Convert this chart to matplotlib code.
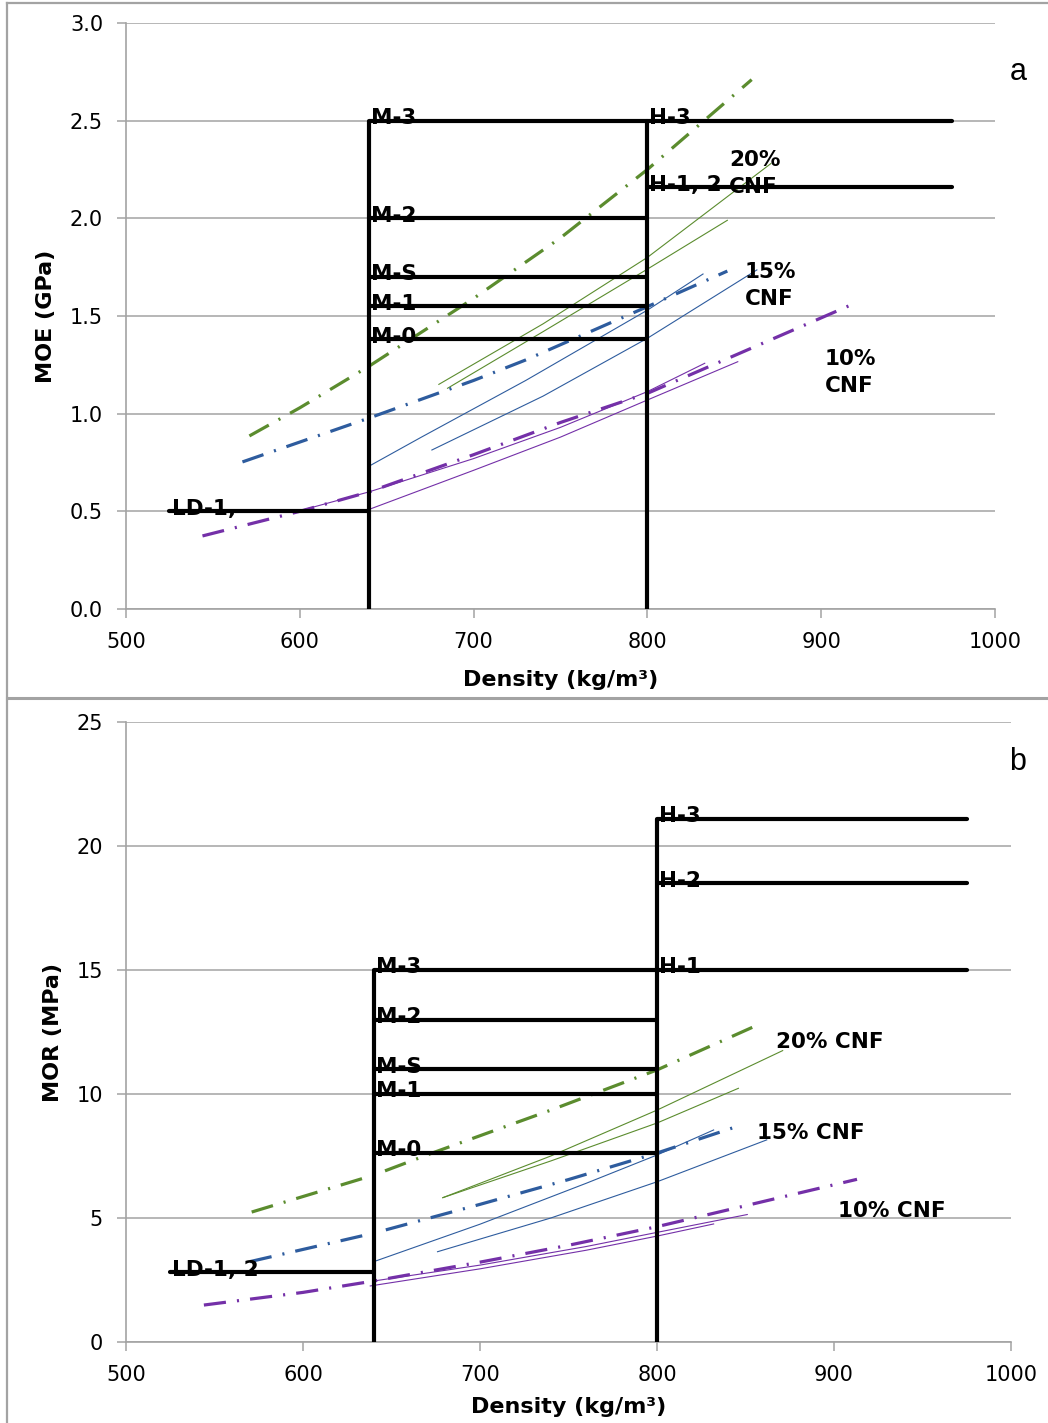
import matplotlib
matplotlib.use("Agg")
import matplotlib.pyplot as plt
from matplotlib.lines import Line2D

plt.rcParams['font.family'] = ['DejaVu Sans']
plt.rcParams['lines.scale_dashes'] = False

# ---------------- data: panel a (MOE) ----------------
moe_grade_labels = ["LD-1,", "M-0", "M-1", "M-S", "M-2", "M-3", "H-1, 2", "H-3"]
moe_grade_dmin = [525, 640, 640, 640, 640, 640, 800, 800]
moe_grade_dmax = [640, 800, 800, 800, 800, 800, 975, 975]
moe_grade_val = [0.50, 1.38, 1.55, 1.70, 2.00, 2.50, 2.16, 2.50]

moe_g20_x = [571, 600, 640, 700, 750, 800, 860]
moe_g20_y = [0.886, 1.03, 1.244, 1.59, 1.90, 2.25, 2.71]
moe_g20a_x = [680, 740, 800, 871]
moe_g20a_y = [1.15, 1.46, 1.80, 2.28]
moe_g20b_x = [685, 740, 800, 846]
moe_g20b_y = [1.13, 1.42, 1.74, 1.99]

moe_b15_x = [567, 640, 700, 730, 800, 846]
moe_b15_y = [0.753, 0.978, 1.17, 1.275, 1.548, 1.73]
moe_b15a_x = [640, 670, 730, 800, 832]
moe_b15a_y = [0.732, 0.88, 1.17, 1.53, 1.715]
moe_b15b_x = [676, 740, 800, 863]
moe_b15b_y = [0.814, 1.09, 1.386, 1.736]

moe_p10_x = [544, 600, 640, 700, 750, 800, 918]
moe_p10_y = [0.374, 0.50, 0.60, 0.79, 0.955, 1.104, 1.56]
moe_p10a_x = [600, 640, 700, 750, 800, 833]
moe_p10a_y = [0.503, 0.60, 0.77, 0.93, 1.113, 1.258]
moe_p10b_x = [639, 700, 750, 800, 852]
moe_p10b_y = [0.507, 0.71, 0.88, 1.07, 1.266]

moe_cnf_labels = ["20%\nCNF", "15%\nCNF", "10%\nCNF"]
moe_cnf_x = [847, 856, 902]
moe_cnf_y = [2.13, 1.557, 1.111]

# ---------------- data: panel b (MOR) ----------------
mor_grade_labels = ["LD-1, 2", "M-0", "M-1", "M-S", "M-2", "M-3", "H-1", "H-2", "H-3"]
mor_grade_dmin = [525, 640, 640, 640, 640, 640, 800, 800, 800]
mor_grade_dmax = [640, 800, 800, 800, 800, 800, 975, 975, 975]
mor_grade_val = [2.82, 7.62, 10.0, 11.0, 13.0, 15.0, 15.0, 18.5, 21.1]

mor_g20_x = [571, 640, 673, 740, 800, 858]
mor_g20_y = [5.24, 6.73, 7.62, 9.35, 10.97, 12.82]
mor_g20a_x = [679, 740, 800, 871]
mor_g20a_y = [5.82, 7.5, 9.35, 11.75]
mor_g20b_x = [679, 740, 800, 846]
mor_g20b_y = [5.82, 7.3, 8.83, 10.23]

mor_b15_x = [570, 640, 700, 750, 800, 846]
mor_b15_y = [3.24, 4.39, 5.55, 6.55, 7.62, 8.71]
mor_b15a_x = [640, 700, 760, 800, 832]
mor_b15a_y = [3.24, 4.75, 6.4, 7.54, 8.55]
mor_b15b_x = [676, 740, 800, 862]
mor_b15b_y = [3.64, 5.0, 6.46, 8.15]

mor_p10_x = [544, 600, 640, 700, 750, 800, 913]
mor_p10_y = [1.49, 2.0, 2.46, 3.22, 3.9, 4.65, 6.56]
mor_p10a_x = [640, 700, 760, 800, 851]
mor_p10a_y = [2.46, 3.1, 3.85, 4.42, 5.14]
mor_p10b_x = [638, 700, 760, 800, 832]
mor_p10b_y = [2.26, 2.95, 3.7, 4.27, 4.76]

mor_cnf_labels = ["20% CNF", "15% CNF", "10% CNF"]
mor_cnf_x = [867, 856.5, 902]
mor_cnf_y = [11.85, 8.18, 5.05]

x_ticks = [500, 600, 700, 800, 900, 1000]

GREEN = '#5B8C2E'
BLUE = '#2E5C9E'
PURPLE = '#7430A8'
GRID = '#A3A3A3'
DASHDOT = (0, (16, 8, 1.5, 8))
LBL_FONT = dict(family=['DejaVu Sans'], weight='bold', size=15.5, color='black')

fig = plt.figure(figsize=(10.48, 14.23), dpi=100)
W, H = 1048, 1423
ax1 = fig.add_axes([126 / W, 1 - 609 / H, (995 - 126) / W, (609 - 23) / H])
ax2 = fig.add_axes([126 / W, 1 - 1342 / H, (1011 - 126) / W, (1342 - 722) / H])


def style(ax, ylim, yticks, yfmt, ylabel, xlabelpad):
    ax.set_xlim(500, 1000)
    ax.set_ylim(*ylim)
    ax.set_xticks(x_ticks)
    ax.set_yticks(yticks)
    ax.set_yticklabels([yfmt.format(v) for v in yticks])
    for s in ['top', 'right']:
        ax.spines[s].set_visible(False)
    for s in ['left', 'bottom']:
        ax.spines[s].set_color(GRID)
        ax.spines[s].set_linewidth(1.2)
    ax.grid(axis='y', color=GRID, lw=1.1)
    ax.set_axisbelow(True)
    ax.tick_params(axis='both', direction='out', length=6.5, width=1.1, color=GRID,
                   labelsize=15, labelcolor='black', pad=10)
    ax.set_xlabel("Density (kg/m³)", fontsize=16, fontweight='bold', labelpad=xlabelpad)
    ax.set_ylabel(ylabel, fontsize=16, fontweight='bold', labelpad=10)


def draw(ax, labels, dmin, dmax, vals, curves, cnf_labels, cnf_x, cnf_y, cnf_ls):
    for b in sorted(set(dmin[1:])):
        top = max(v for v, d in zip(vals, dmin) if d == b)
        ax.plot([b, b], [0, top], color='black', lw=3, solid_capstyle='butt', zorder=4)
    for lab, a, b, v in zip(labels, dmin, dmax, vals):
        ax.plot([a, b], [v, v], color='black', lw=3, solid_capstyle='round', zorder=4)
        ax.annotate(lab, (a, v), xytext=(1.5, -2.5), textcoords='offset points',
                    ha='left', va='baseline', zorder=5, **LBL_FONT)
    for x, y, c, thick in curves:
        if thick:
            ax.plot(x, y, color=c, lw=2.3, ls=DASHDOT, zorder=3)
        else:
            ax.plot(x, y, color=c, lw=0.8, zorder=3)
    for t, x, y in zip(cnf_labels, cnf_x, cnf_y):
        ax.text(x, y, t, ha='left', va='baseline', linespacing=cnf_ls, zorder=5, **LBL_FONT)


style(ax1, (0, 3.0), [0.0, 0.5, 1.0, 1.5, 2.0, 2.5, 3.0], "{:.1f}", "MOE (GPa)", 13)
draw(ax1, moe_grade_labels, moe_grade_dmin, moe_grade_dmax, moe_grade_val,
     [(moe_g20_x, moe_g20_y, GREEN, True), (moe_g20a_x, moe_g20a_y, GREEN, False),
      (moe_g20b_x, moe_g20b_y, GREEN, False),
      (moe_b15_x, moe_b15_y, BLUE, True), (moe_b15a_x, moe_b15a_y, BLUE, False),
      (moe_b15b_x, moe_b15b_y, BLUE, False),
      (moe_p10_x, moe_p10_y, PURPLE, True), (moe_p10a_x, moe_p10a_y, PURPLE, False),
      (moe_p10b_x, moe_p10b_y, PURPLE, False)],
     moe_cnf_labels, moe_cnf_x, moe_cnf_y, 1.45)

style(ax2, (0, 25), [0, 5, 10, 15, 20, 25], "{:d}", "MOR (MPa)", 9)
draw(ax2, mor_grade_labels, mor_grade_dmin, mor_grade_dmax, mor_grade_val,
     [(mor_g20_x, mor_g20_y, GREEN, True), (mor_g20a_x, mor_g20a_y, GREEN, False),
      (mor_g20b_x, mor_g20b_y, GREEN, False),
      (mor_b15_x, mor_b15_y, BLUE, True), (mor_b15a_x, mor_b15a_y, BLUE, False),
      (mor_b15b_x, mor_b15b_y, BLUE, False),
      (mor_p10_x, mor_p10_y, PURPLE, True), (mor_p10a_x, mor_p10a_y, PURPLE, False),
      (mor_p10b_x, mor_p10b_y, PURPLE, False)],
     mor_cnf_labels, mor_cnf_x, mor_cnf_y, 1.2)

# panel letters
fig.text(1018 / W, 1 - 72 / H, "a", ha='center', va='center', fontsize=22,
         family=['Liberation Sans', 'DejaVu Sans'])
fig.text(1018 / W, 1 - 762 / H, "b", ha='center', va='center', fontsize=22,
         family=['Liberation Sans', 'DejaVu Sans'])

# outer frame of the two chart pictures
fig.add_artist(Line2D([7 / W, 7 / W], [0, 1 - 3 / H], color=GRID, lw=1.6))
fig.add_artist(Line2D([7 / W, 1], [1 - 3 / H, 1 - 3 / H], color=GRID, lw=1.6))
fig.add_artist(Line2D([7 / W, 1], [1 - 698 / H, 1 - 698 / H], color=GRID, lw=2.2))

fig.savefig("out.png", dpi=100)
